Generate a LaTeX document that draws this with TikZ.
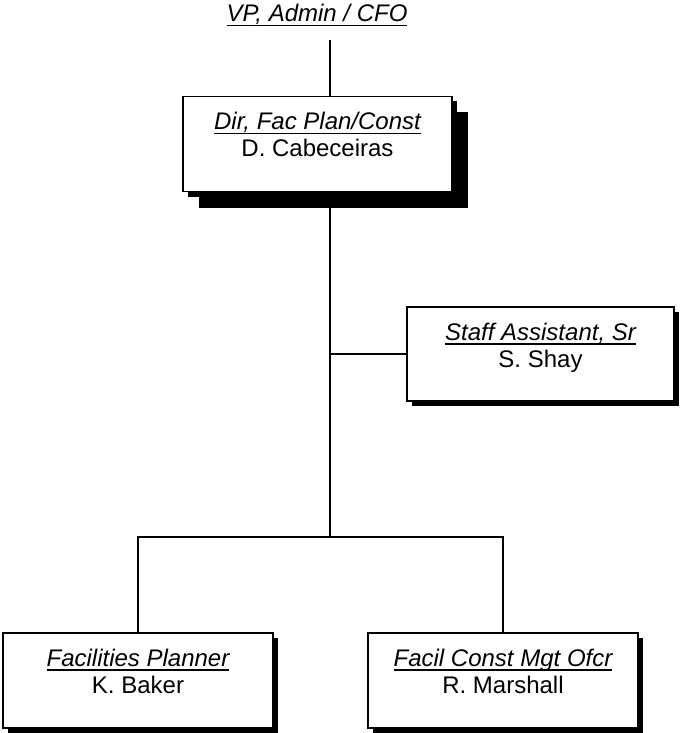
\documentclass[tikz,border=0pt]{standalone}
\usepackage{fontspec}
\setmainfont{Liberation Sans}
\usetikzlibrary{positioning,shadows}

\newcommand{\jobtitle}[1]{\setbox0\hbox{\itshape #1}\rlap{\rule[-4.5pt]{\wd0}{1.4pt}}\box0}

\begin{document}
\begin{tikzpicture}[x=1pt,y=-1pt,
line/.style={line width=1.6pt},
post/.style={draw,line width=1.6pt,fill=white,
  minimum width=270pt,inner sep=0pt,
  text height=60pt,text depth=35pt,align=center,
  font=\fontsize{24}{27}\selectfont,
  drop shadow={shadow xshift=5pt,shadow yshift=-5pt,fill=black,opacity=1}},
bigshadow/.style={drop shadow={shadow xshift=16pt,shadow yshift=-16pt,fill=black,opacity=1}}]
\useasboundingbox (0,0) rectangle (680,733);

\node[anchor=base,font=\fontsize{24}{27}\selectfont] (vp) at (317,22) {\jobtitle{VP, Admin / CFO}};

\node[post,bigshadow,minimum width=269pt] (dir) at (317.5,144) {\jobtitle{Dir, Fac Plan/Const}\\D. Cabeceiras};
\node[post,minimum width=267pt,text depth=34pt] (staff) at (540.5,354) {\jobtitle{Staff Assistant, Sr}\\S. Shay};
\node[post] (planner) at (138,680.5) {\jobtitle{Facilities Planner}\\K. Baker};
\node[post] (marshall) at (503,680.5) {\jobtitle{Facil Const Mgt Ofcr}\\R. Marshall};

\coordinate (vpline) at (330,40);
\coordinate (trunk) at (330,538);

\draw[line] (vpline) -- (vpline |- dir.north);
\draw[line] (trunk |- dir.south) -- (trunk);
\draw[line] (trunk |- staff.west) -- (staff.west);
\draw[line] (planner.north) -- ++(0,-95) -| (marshall.north);
\end{tikzpicture}
\end{document}
